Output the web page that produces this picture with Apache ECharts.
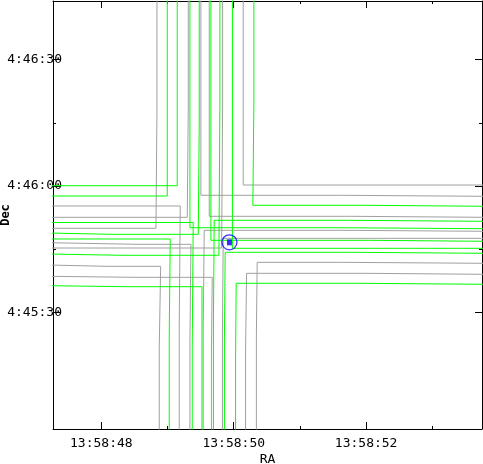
<!DOCTYPE html>
<html>
<head>
<meta charset="utf-8">
<script src="https://cdn.jsdelivr.net/npm/echarts@6/dist/echarts.min.js"></script>
<style>
html, body { margin: 0; padding: 0; background: #fff; }
#chart { width: 483px; height: 464px; }
</style>
</head>
<body>
<div id="chart"></div>
<script>
// RA = seconds after 13:58:00, Dec = arcsec after 4:45:00
const raRange = [47.27, 53.75];
const decRange = [2.28, 103.94];
const raMajor = [48, 50, 52];
const raMinor = [49, 51, 53];
const decMajor = [30, 60, 90];
const decMinor = [45, 75];

const markerPos = [49.935, 46.62];

// contour paths, [ra, dec]
const greenPaths = [
  [[49.147,104.5],[49.147,60.07],[47.2,60.07]],
  [[48.996,104.5],[48.996,57.62],[47.2,57.62]],
  [[49.479,104.5],[49.479,74.72],[49.464,74.72],[49.464,48.52],[48.161,48.52],[48.161,48.83],[47.2,48.83]],
  [[49.791,104.5],[49.791,79.71],[49.776,79.71],[49.776,43.54],[48.312,43.54],[48.312,43.85],[47.2,43.85]],
  [[49.026,2],[49.026,25.32],[49.041,25.32],[49.041,47.41],[47.2,47.41]],
  [[49.520,2],[49.520,36.08],[48.388,36.08],[48.388,36.32],[47.2,36.32]],
  [[49.373,2],[49.373,21.99],[49.388,21.99],[49.388,51.33],[47.2,51.33]],
  [[49.338,104.5],[49.338,50.09],[51.557,50.09],[51.557,49.85],[53.8,49.85]],
  [[49.655,104.5],[49.655,47.10],[52.055,47.10],[52.055,46.86],[53.8,46.86]],
  [[50.304,104.5],[50.304,79.71],[50.289,79.71],[50.289,55.41],[52.025,55.41],[52.025,55.18],[53.8,55.18]],
  [[49.980,104.5],[49.980,45.20],[53.8,45.20]],
  [[49.693,2],[49.693,27.46],[49.705,27.46],[49.705,51.85],[51.723,51.85],[51.723,51.61],[53.8,51.61]],
  [[49.859,2],[49.859,23.18],[49.871,23.18],[49.871,44.25],[51.814,44.25],[51.814,44.01],[53.8,44.01]],
  [[50.028,2],[50.028,19.62],[50.037,19.62],[50.037,36.89],[51.889,36.89],[51.889,36.65],[53.8,36.65]]
];

const grayPaths = [
  [[49.313,104.5],[49.313,78.29],[49.298,78.29],[49.298,52.56],[47.2,52.56]],
  [[48.840,104.5],[48.840,77.10],[48.825,77.10],[48.825,49.95],[47.2,49.95]],
  [[49.832,104.5],[49.832,78.52],[49.817,78.52],[49.817,45.27],[47.2,45.27]],
  [[48.875,2],[48.875,21.52],[48.896,21.52],[48.896,40.92],[48.086,40.92],[48.086,41.23],[47.2,41.23]],
  [[49.338,2],[49.338,22.94],[49.354,22.94],[49.354,46.15],[48.553,46.15],[48.553,46.53],[47.2,46.53]],
  [[49.663,2],[49.663,20.33],[49.675,20.33],[49.675,38.31],[48.478,38.31],[48.478,38.55],[47.2,38.55]],
  [[49.177,2],[49.177,26.74],[49.192,26.74],[49.192,55.25],[47.2,55.25]],
  [[49.504,104.5],[49.504,57.79],[51.633,57.79],[51.633,57.55],[53.8,57.55]],
  [[49.630,104.5],[49.630,52.80],[51.784,52.80],[51.784,52.56],[53.8,52.56]],
  [[50.143,104.5],[50.143,60.23],[53.8,60.23]],
  [[49.539,2],[49.539,25.79],[49.554,25.79],[49.554,49.47],[51.648,49.47],[51.648,49.24],[53.8,49.24]],
  [[49.829,2],[49.829,24.13],[49.841,24.13],[49.841,47.57],[53.8,47.57]],
  [[50.179,2],[50.179,20.80],[50.194,20.80],[50.194,39.26],[51.980,39.26],[51.980,39.02],[53.8,39.02]],
  [[50.342,2],[50.342,24.61],[50.354,24.61],[50.354,41.87],[51.572,41.87],[51.572,41.64],[53.8,41.64]]
];

function pad(n) { return (n < 10 ? '0' : '') + n; }
function raLabel(v) { return '13:58:' + pad(Math.round(v)); }
function decLabel(v) {
  v = Math.round(v);
  return '4:' + (45 + Math.floor(v / 60)) + ':' + pad(v % 60);
}

var fontFam = 'DejaVu Sans Mono';

function xAx(pos, ticks, len, main) {
  return {
    type: 'value', position: pos, min: raRange[0], max: raRange[1],
    axisLine: { show: main, onZero: false, lineStyle: { color: '#000', width: 1 } },
    axisTick: { show: true, inside: true, length: len, customValues: ticks, lineStyle: { color: '#000', width: 1 } },
    axisLabel: { show: main && pos == 'bottom', customValues: raMajor, formatter: raLabel, margin: 8,
      fontFamily: fontFam, fontSize: 13, color: '#000' },
    splitLine: { show: false },
    name: main && pos == 'bottom' ? 'RA' : '',
    nameLocation: 'middle', nameGap: 24, nameMoveOverlap: false,
    nameTextStyle: { fontFamily: fontFam, fontSize: 13, color: '#000' }
  };
}
function yAx(pos, ticks, len, main) {
  return {
    type: 'value', position: pos, min: decRange[0], max: decRange[1],
    axisLine: { show: main, onZero: false, lineStyle: { color: '#000', width: 1 } },
    axisTick: { show: true, inside: true, length: len, customValues: ticks, lineStyle: { color: '#000', width: 1 } },
    axisLabel: { show: main && pos == 'left', customValues: decMajor, formatter: decLabel, margin: -9,
      fontFamily: fontFam, fontSize: 13, color: '#000' },
    splitLine: { show: false },
    name: main && pos == 'left' ? 'Dec' : '',
    nameLocation: 'middle', nameGap: 41, nameRotate: 90, nameMoveOverlap: false,
    nameTextStyle: { fontFamily: fontFam, fontSize: 12, fontWeight: 'bold', color: '#000' }
  };
}

var series = [];
grayPaths.forEach(function (p) {
  series.push({ type: 'line', data: p, showSymbol: false, silent: true,
    lineStyle: { color: '#a0a0a0', width: 1 } });
});
greenPaths.forEach(function (p) {
  series.push({ type: 'line', data: p, showSymbol: false, silent: true,
    lineStyle: { color: '#00ff00', width: 1 } });
});
series.push({ type: 'scatter', data: [markerPos], symbol: 'circle', symbolSize: 15,
  itemStyle: { color: 'rgba(0,0,0,0)', borderColor: '#0000ff', borderWidth: 1.3 }, z: 5 });
series.push({ type: 'scatter', data: [markerPos], symbol: 'rect', symbolSize: [5, 6],
  itemStyle: { color: '#0000ff' }, z: 6 });

var chart = echarts.init(document.getElementById('chart'));
chart.setOption({
  animation: false,
  backgroundColor: '#fff',
  grid: { left: 53, right: 1, top: 1, bottom: 35, containLabel: false, outerBoundsMode: 'none' },
  xAxis: [
    xAx('bottom', raMajor, 7, true),
    xAx('bottom', raMinor, 3, false),
    xAx('top', raMajor, 7, true),
    xAx('top', raMinor, 3, false)
  ],
  yAxis: [
    yAx('left', decMajor, 7, true),
    yAx('left', decMinor, 3, false),
    yAx('right', decMajor, 7, true),
    yAx('right', decMinor, 3, false)
  ],
  series: series
});
</script>
</body>
</html>
